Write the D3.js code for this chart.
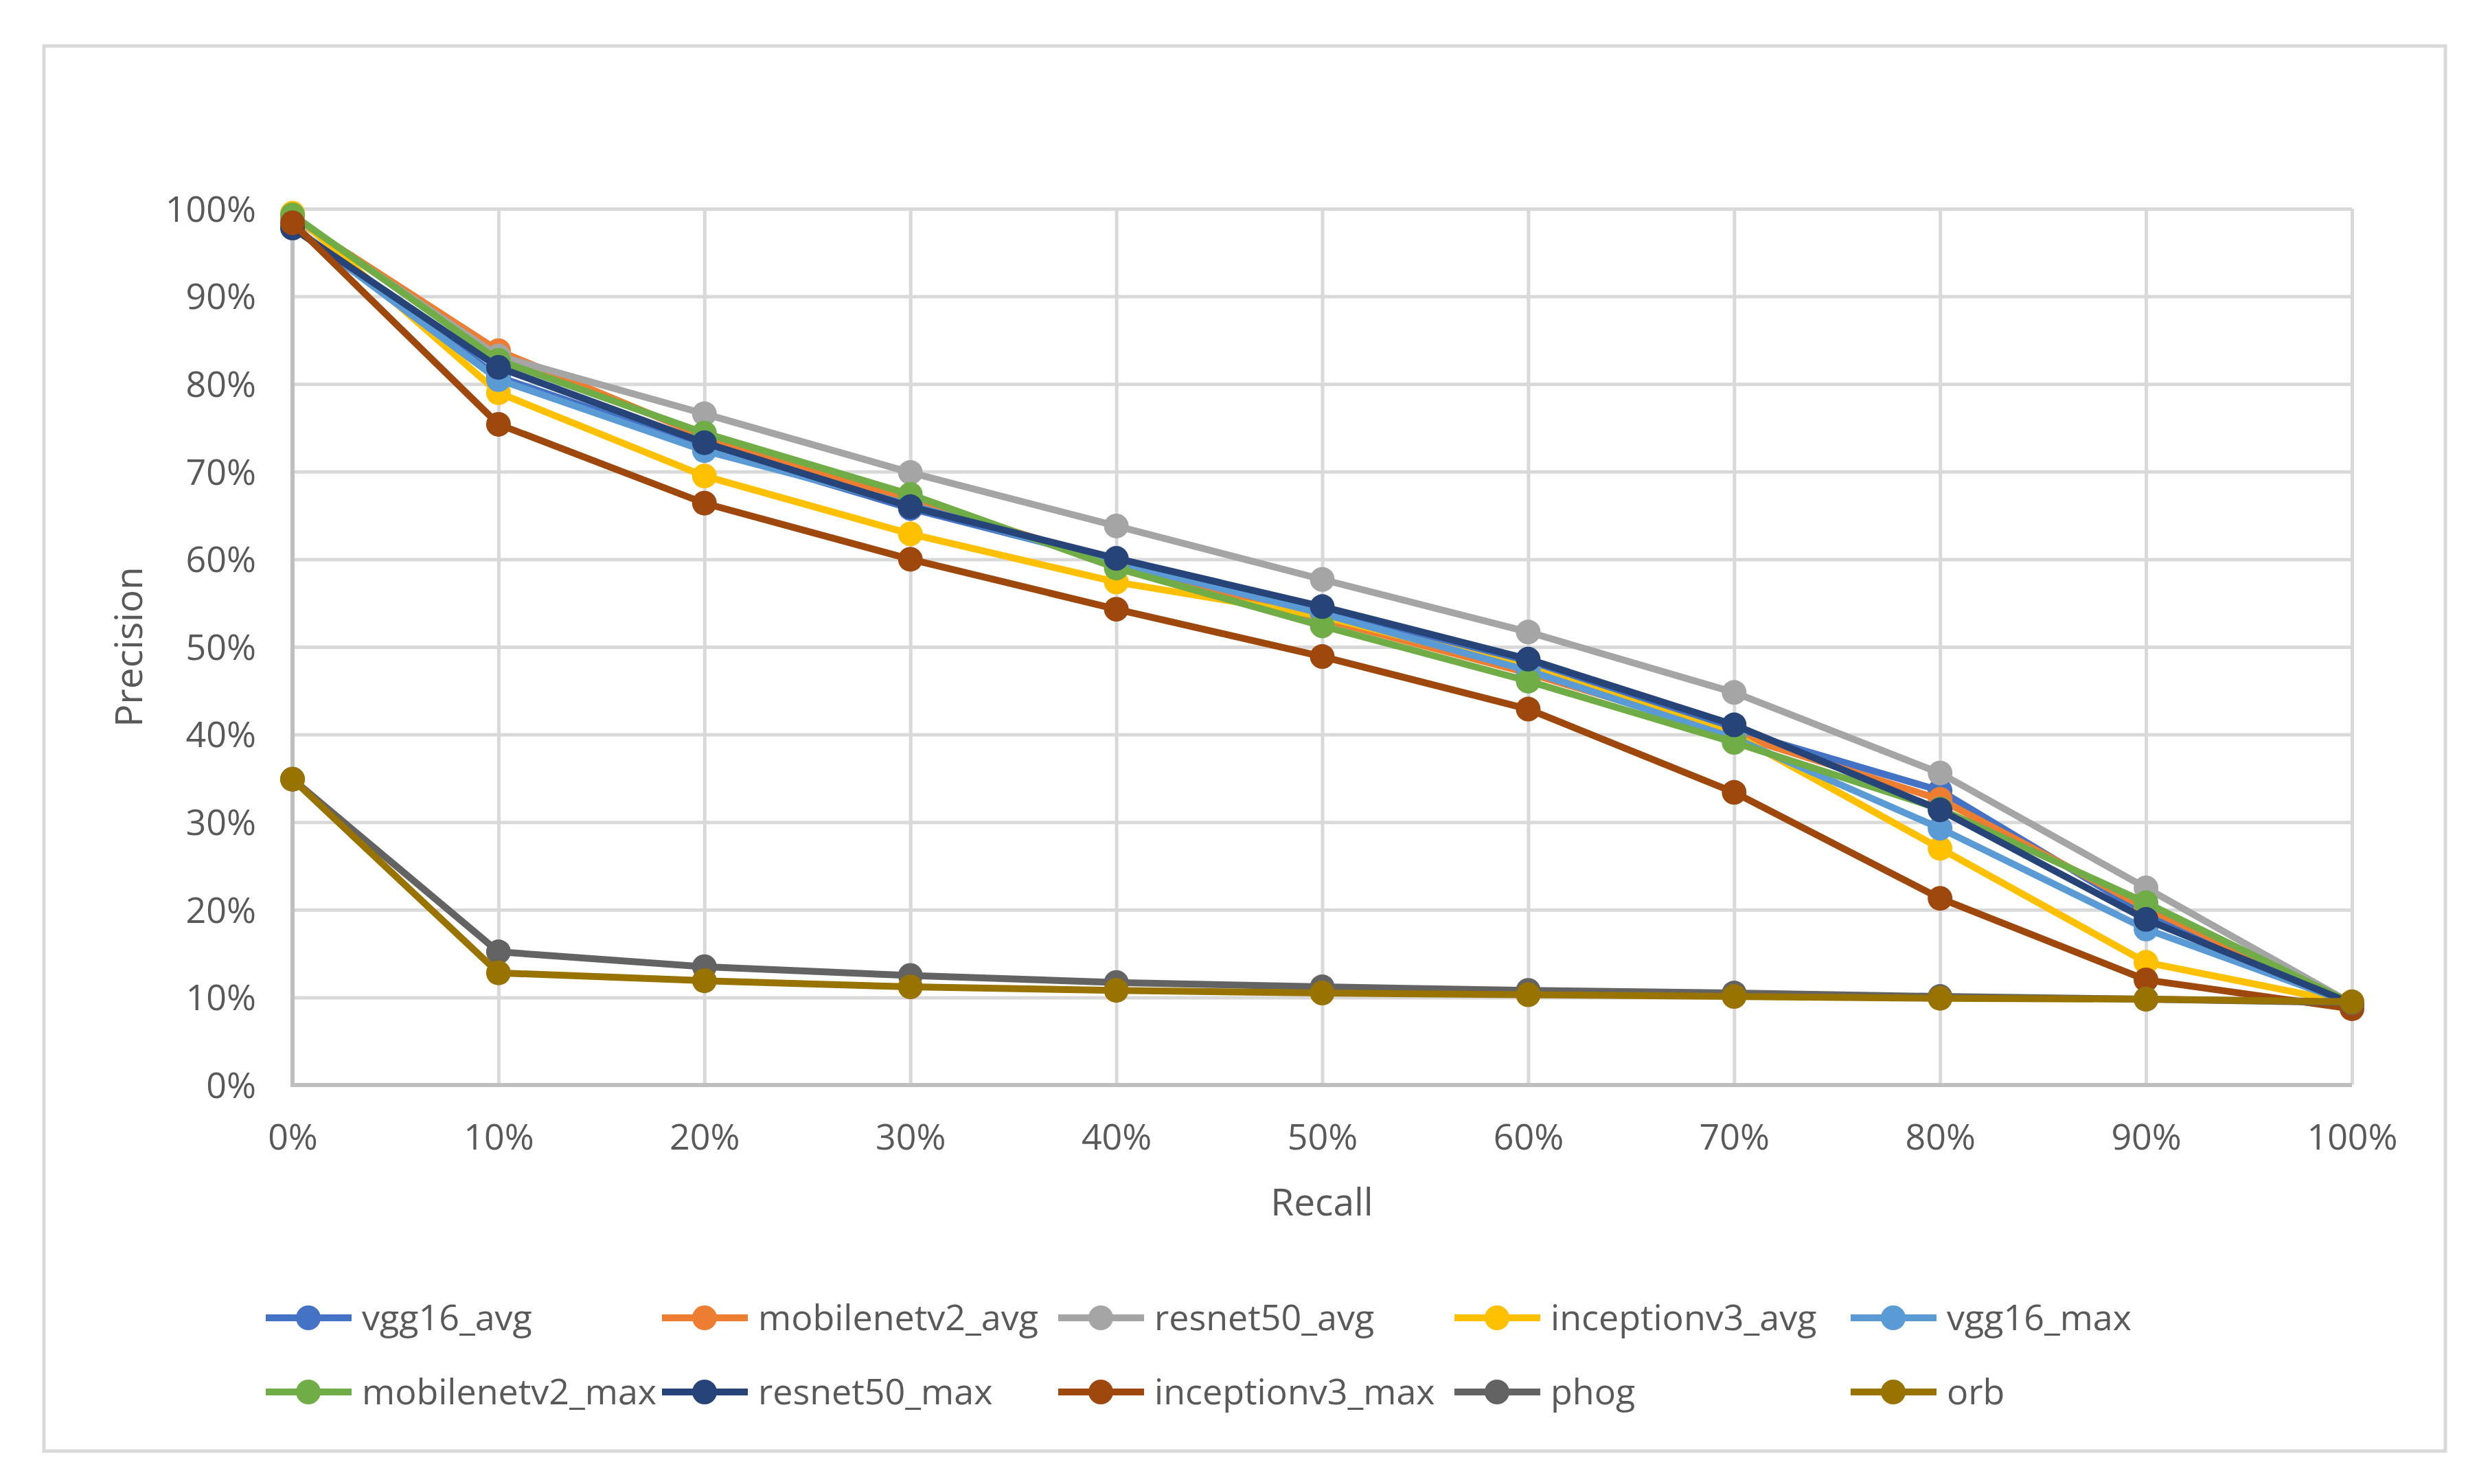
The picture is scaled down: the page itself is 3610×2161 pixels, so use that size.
<!DOCTYPE html>
<html>
<head>
<meta charset="utf-8">
<script src="https://cdn.jsdelivr.net/npm/d3@7"></script>
<style>
  body { margin: 0; background: #fff; }
  text { font-family: "Open Sans", sans-serif; fill: #595959; }
</style>
</head>
<body>
<div class="chart"></div>
<script>
// recall levels (x) and precision per method (y)
const recall = [0, 0.1, 0.2, 0.3, 0.4, 0.5, 0.6, 0.7, 0.8, 0.9, 1.0];
const yTicks = [0, 0.1, 0.2, 0.3, 0.4, 0.5, 0.6, 0.7, 0.8, 0.9, 1.0];

const vgg16_avg       = [0.980, 0.808, 0.728, 0.658, 0.598, 0.540, 0.480, 0.405, 0.336, 0.195, 0.093];
const mobilenetv2_avg = [0.990, 0.838, 0.740, 0.668, 0.596, 0.532, 0.470, 0.400, 0.326, 0.202, 0.093];
const resnet50_avg    = [0.990, 0.832, 0.766, 0.699, 0.638, 0.577, 0.517, 0.448, 0.356, 0.225, 0.093];
const inceptionv3_avg = [0.995, 0.790, 0.695, 0.629, 0.574, 0.535, 0.476, 0.400, 0.270, 0.140, 0.093];
const vgg16_max       = [0.980, 0.805, 0.724, 0.662, 0.596, 0.538, 0.473, 0.396, 0.293, 0.178, 0.093];
const mobilenetv2_max = [0.993, 0.827, 0.744, 0.674, 0.590, 0.524, 0.461, 0.391, 0.315, 0.208, 0.093];
const resnet50_max    = [0.978, 0.819, 0.733, 0.660, 0.601, 0.546, 0.486, 0.411, 0.314, 0.189, 0.093];
const inceptionv3_max = [0.984, 0.754, 0.664, 0.600, 0.543, 0.489, 0.429, 0.334, 0.213, 0.120, 0.087];
const phog            = [0.349, 0.152, 0.135, 0.125, 0.117, 0.112, 0.108, 0.105, 0.101, 0.098, 0.094];
const orb             = [0.349, 0.128, 0.119, 0.112, 0.108, 0.105, 0.103, 0.101, 0.099, 0.098, 0.095];

const seriesNames = ["vgg16_avg", "mobilenetv2_avg", "resnet50_avg", "inceptionv3_avg", "vgg16_max",
                     "mobilenetv2_max", "resnet50_max", "inceptionv3_max", "phog", "orb"];
const seriesValues = [vgg16_avg, mobilenetv2_avg, resnet50_avg, inceptionv3_avg, vgg16_max,
                      mobilenetv2_max, resnet50_max, inceptionv3_max, phog, orb];
const colors = ["#4472C4", "#ED7D31", "#A5A5A5", "#FFC000", "#5B9BD5",
                "#70AD47", "#264478", "#9E480E", "#636363", "#997300"];

var width = 3610;
var height = 2161;

var svg = d3.select(".chart").append("svg")
    .attr("width", width)
    .attr("height", height);

// outer chart border
svg.append("rect")
    .attr("x", 64).attr("y", 67)
    .attr("width", 3497).attr("height", 2046)
    .attr("fill", "#fff")
    .attr("stroke", "#d9d9d9")
    .attr("stroke-width", 5);

var x = d3.scaleLinear().domain([0, 1]).range([426, 3425]);
var y = d3.scaleLinear().domain([0, 1]).range([1580, 304]);

// horizontal gridlines
svg.append("g")
    .attr("transform", "translate(426,0)")
    .call(d3.axisLeft(y).tickValues(yTicks).tickSize(-(3425 - 426)).tickFormat(""))
    .call(g => g.select(".domain").remove())
    .call(g => g.selectAll("line").attr("stroke", "#d9d9d9").attr("stroke-width", 5));

// vertical gridlines
svg.append("g")
    .attr("transform", "translate(0,1580)")
    .call(d3.axisBottom(x).tickValues(recall).tickSize(-(1580 - 304)).tickFormat(""))
    .call(g => g.select(".domain").remove())
    .call(g => g.selectAll("line").attr("stroke", "#d9d9d9").attr("stroke-width", 5));

// axis lines
svg.append("line")
    .attr("x1", 426).attr("x2", 426).attr("y1", 304).attr("y2", 1582)
    .attr("stroke", "#bfbfbf").attr("stroke-width", 6);
svg.append("line")
    .attr("x1", 423).attr("x2", 3425).attr("y1", 1580).attr("y2", 1580)
    .attr("stroke", "#bfbfbf").attr("stroke-width", 6);

// tick labels
var yAxis = svg.append("g")
    .attr("transform", "translate(373,0)")
    .call(d3.axisLeft(y).tickValues(yTicks).tickSize(0).tickFormat(d3.format(".0%")));
yAxis.select(".domain").remove();
yAxis.selectAll("text")
    .attr("font-size", 52)
    .attr("x", 0)
    .attr("dy", "0.35em")
    .style("font-family", "Open Sans")
    .attr("fill", "#595959");

var xAxis = svg.append("g")
    .attr("transform", "translate(0,1580)")
    .call(d3.axisBottom(x).tickValues(recall).tickSize(0).tickFormat(d3.format(".0%")));
xAxis.select(".domain").remove();
xAxis.selectAll("text")
    .attr("font-size", 52)
    .attr("y", 94)
    .attr("dy", 0)
    .style("font-family", "Open Sans")
    .attr("fill", "#595959");

// axis titles
svg.append("text")
    .attr("x", 1925).attr("y", 1770)
    .attr("text-anchor", "middle")
    .attr("font-size", 55)
    .text("Recall");

svg.append("text")
    .attr("transform", "translate(207,942) rotate(-90)")
    .attr("text-anchor", "middle")
    .attr("font-size", 55)
    .text("Precision");

// lines and markers
var line = d3.line()
    .x(function(d, i) { return x(recall[i]); })
    .y(function(d) { return y(d); });

seriesValues.forEach(function(values, s) {
    var g = svg.append("g");
    g.append("path")
        .datum(values)
        .attr("d", line)
        .attr("fill", "none")
        .attr("stroke", colors[s])
        .attr("stroke-width", 10)
        .attr("stroke-linejoin", "round");
    g.selectAll("circle")
        .data(values)
        .enter()
        .append("circle")
        .attr("cx", function(d, i) { return x(recall[i]); })
        .attr("cy", function(d) { return y(d); })
        .attr("r", 18)
        .attr("fill", colors[s]);
});

// legend
var legend = svg.append("g");
seriesNames.forEach(function(name, i) {
    var col = i % 5;
    var row = Math.floor(i / 5);
    var lx = 387 + col * 577;
    var ly = 1919 + row * 108;
    var item = legend.append("g").attr("transform", "translate(" + lx + "," + ly + ")");
    item.append("line")
        .attr("x1", 0).attr("x2", 125)
        .attr("stroke", colors[i])
        .attr("stroke-width", 10);
    item.append("circle")
        .attr("cx", 62).attr("cy", 0).attr("r", 18)
        .attr("fill", colors[i]);
    item.append("text")
        .attr("x", 140).attr("y", 0)
        .attr("dy", "0.35em")
        .attr("font-size", 52)
        .text(name);
});
</script>
</body>
</html>
